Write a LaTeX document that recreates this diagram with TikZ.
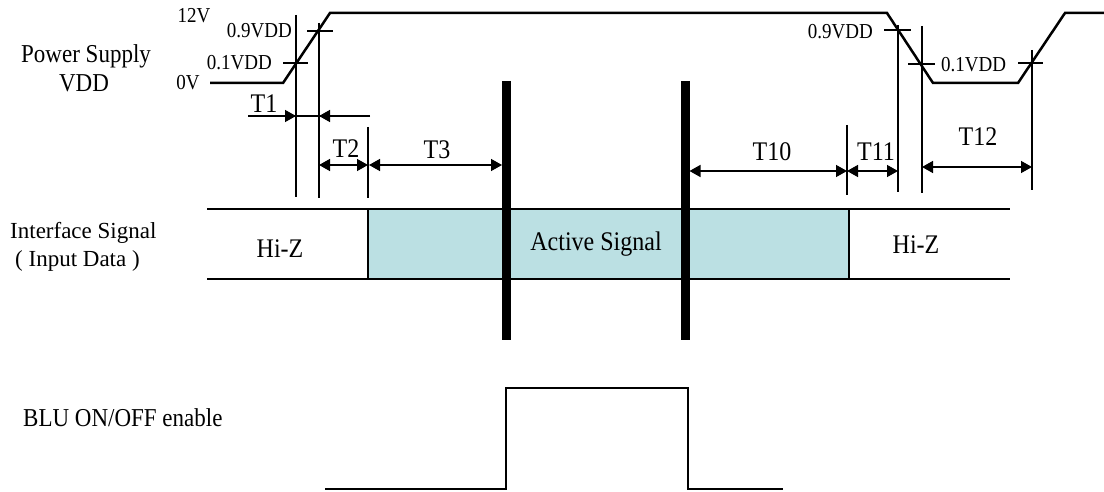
\documentclass[tikz,border=0pt]{standalone}
\usepackage{fontspec}
\setmainfont{Liberation Serif}
\usetikzlibrary{arrows.meta}
\definecolor{activefill}{RGB}{187,224,227}
\newcommand\vstretch[1]{\scalebox{1}[1.12]{#1}}
\tikzset{
  sig/.style={line width=2.5pt, line join=miter},
  dimline/.style={line width=1.4pt},
  dimarr/.style={line width=1.4pt, {Triangle[length=11pt,width=12pt]}-{Triangle[length=11pt,width=12pt]}},
  onearr/.style={line width=1.4pt, -{Triangle[length=11pt,width=12pt]}},
  thickbar/.style={line width=9pt},
  lbl/.style={font=\fontsize{23}{27}\selectfont, inner sep=0pt},
  tlbl/.style={font=\fontsize{24}{28}\selectfont, inner sep=0pt},
  vlbl/.style={font=\fontsize{19}{22}\selectfont, inner sep=0pt},
}
\begin{document}
\begin{tikzpicture}[x=1pt,y=-1pt]
\useasboundingbox (0,0) rectangle (1104,492);

% ---------- labels on the left ----------
\node[lbl, anchor=west] (ps) at (21,56) {\vstretch{Power Supply}};
\node[lbl] (vdd) at (84,83) {\vstretch{VDD}};
\node[lbl, anchor=west] (ifs) at (10,233) {Interface Signal};
\node[lbl, anchor=west] (ind) at (15,261) {( Input Data )};
\node[lbl, anchor=west] (blu) at (23,418) {\vstretch{BLU ON/OFF enable}};

% ---------- voltage labels ----------
\node[vlbl] (v12) at (194,16) {\vstretch{12V}};
\node[vlbl] (v0) at (188,83) {\vstretch{0V}};
\node[vlbl, anchor=east] (l09a) at (292,31) {\vstretch{0.9VDD}};
\node[vlbl, anchor=east] (l01a) at (272,63) {\vstretch{0.1VDD}};
\node[vlbl, anchor=east] (l09b) at (873,32) {\vstretch{0.9VDD}};
\node[vlbl, anchor=west] (l01b) at (941,65) {\vstretch{0.1VDD}};

% ---------- power supply waveform ----------
\draw[sig] (210,83) -- (283,83) -- (330,13) -- (887,13) -- (933,83) -- (1018,83) -- (1065,13) -- (1104,13);

% crossing ticks
\draw[dimline] (307,31) -- (333,31);
\draw[dimline] (283,63) -- (308,63);
\draw[dimline] (884,30) -- (911,30);
\draw[dimline] (908,64) -- (935,64);
\draw[dimline] (1018,63) -- (1043,63);

% vertical reference lines
\draw[dimline] (296,15) -- (296,197);
\draw[dimline] (319,23) -- (319,198);
\draw[dimline] (368,127) -- (368,198);
\draw[dimline] (847,125) -- (847,195);
\draw[dimline] (898,25) -- (898,192);
\draw[dimline] (922,26) -- (922,193);
\draw[dimline] (1032,50) -- (1032,190);

% ---------- interface signal ----------
\fill[activefill] (368,209) rectangle (849,279);
\draw[sig] (207,209) -- (1010,209);
\draw[sig] (207,279) -- (1010,279);
\draw[sig] (368,209) -- (368,279);
\draw[sig] (849,209) -- (849,279);
\node[tlbl] (hiz1) at (280,249) {\vstretch{Hi-Z}};
\node[tlbl] (act) at (596,244) {\vstretch{Active Signal}};
\node[tlbl] (hiz2) at (916,245) {\vstretch{Hi-Z}};

% thick bars
\draw[thickbar] (506.5,81) -- (506.5,340);
\draw[thickbar] (685,81) -- (685,340);

% ---------- timing arrows ----------
\draw[dimline] (248,116) -- (370,116);
\draw[onearr] (248,116) -- (296,116);
\draw[onearr] (370,116) -- (319,116);
\node[tlbl] (t1) at (264,104) {\vstretch{T1}};

\draw[dimarr] (319,165) -- (368,165);
\node[tlbl] (t2) at (346,149) {\vstretch{T2}};
\draw[dimarr] (369,165) -- (502,165);
\node[tlbl] (t3) at (437,150) {\vstretch{T3}};

\draw[dimarr] (689.5,171) -- (847,171);
\node[tlbl] (t10) at (772,152) {\vstretch{T10}};
\draw[dimarr] (847,171) -- (898,171);
\node[tlbl] (t11) at (876,152) {\vstretch{T11}};
\draw[dimarr] (922,167) -- (1032,167);
\node[tlbl] (t12) at (978,137) {\vstretch{T12}};

% ---------- BLU enable ----------
\draw[sig, line width=2.8pt] (325,489) -- (506,489) -- (506,388) -- (688,388) -- (688,489) -- (783,489);
\end{tikzpicture}
\end{document}
